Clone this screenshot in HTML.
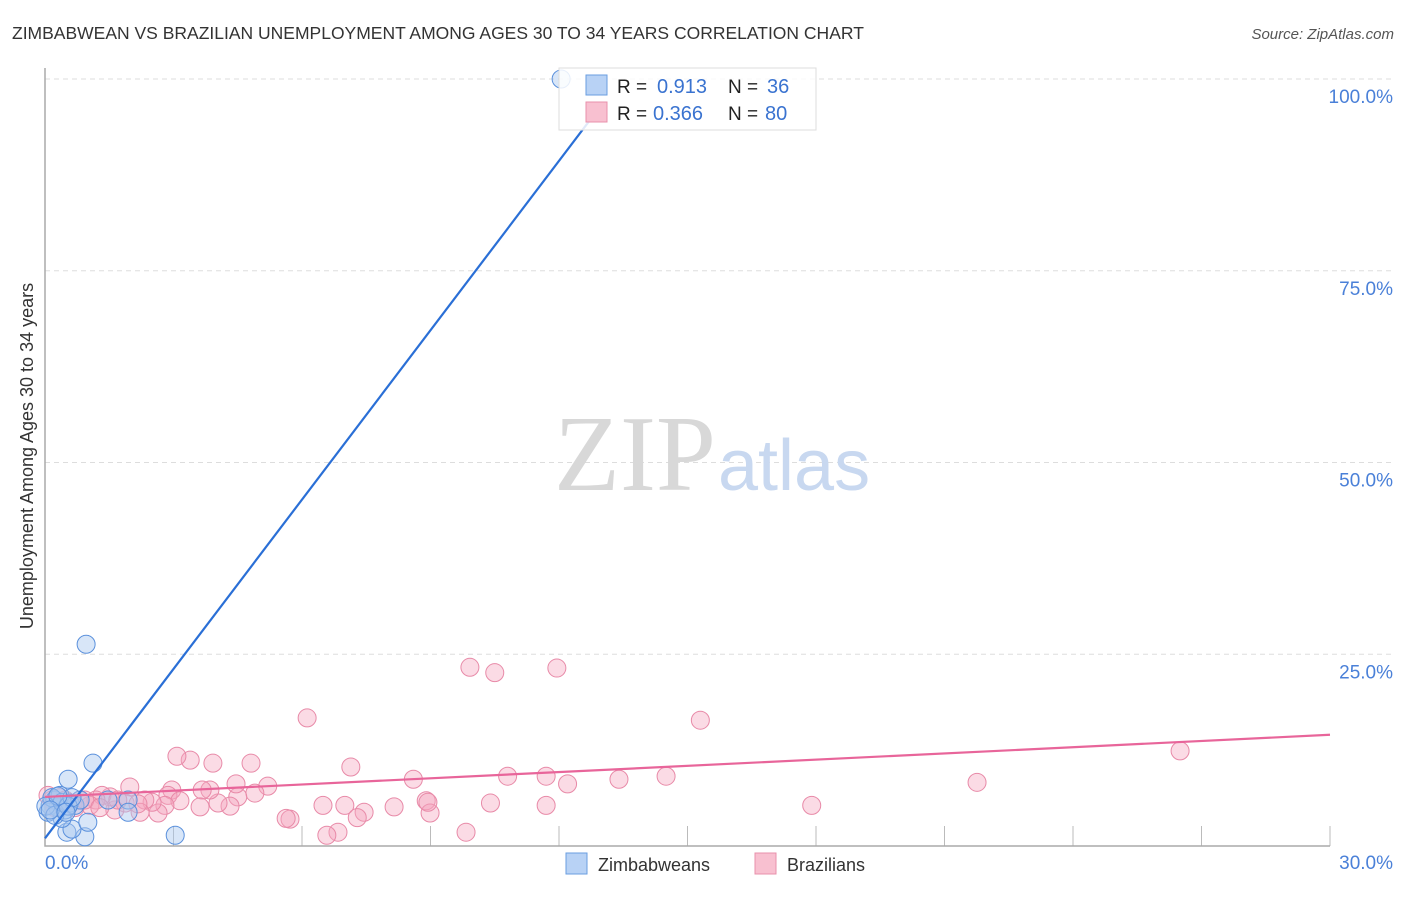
<!DOCTYPE html>
<html><head><meta charset="utf-8"><style>
body{margin:0;background:#fff;font-family:"Liberation Sans",sans-serif}
</style></head><body>
<svg width="1406" height="892" xmlns="http://www.w3.org/2000/svg">
<text x="12" y="39" font-size="17.5" fill="#333">ZIMBABWEAN VS BRAZILIAN UNEMPLOYMENT AMONG AGES 30 TO 34 YEARS CORRELATION CHART</text>
<text x="1394" y="39" font-size="15" fill="#555" font-style="italic" text-anchor="end">Source: ZipAtlas.com</text>
<text x="33" y="456" font-size="18" fill="#333" text-anchor="middle" transform="rotate(-90 33 456)">Unemployment Among Ages 30 to 34 years</text>
<g id="grid"></g>
<text x="716" y="490" font-size="108" fill="#d8d8d8" text-anchor="end" font-family="Liberation Serif,serif">ZIP</text>
<text x="718" y="490" font-size="72" fill="#c8d8f0">atlas</text>
<g id="pts"></g>
<g id="lines"></g>
<g>
<rect x="559" y="68" width="257" height="62" fill="#fff" fill-opacity="0.85" stroke="#ddd"/>
<rect x="586" y="75" width="21" height="20" fill="#b8d2f5" stroke="#6a9ee0"/>
<rect x="586" y="102" width="21" height="20" fill="#f8c0d0" stroke="#e890ab"/>
<text x="617" y="93" font-size="19" fill="#222">R =</text>
<text x="657" y="93" font-size="20" fill="#3a73d0">0.913</text>
<text x="728" y="93" font-size="19" fill="#222">N =</text>
<text x="767" y="93" font-size="20" fill="#3a73d0">36</text>
<text x="617" y="120" font-size="19" fill="#222">R =</text>
<text x="653" y="120" font-size="20" fill="#3a73d0">0.366</text>
<text x="728" y="120" font-size="19" fill="#222">N =</text>
<text x="765" y="120" font-size="20" fill="#3a73d0">80</text>
</g>
<g>
<rect x="566" y="853" width="21" height="21" fill="#b8d2f5" stroke="#6a9ee0"/>
<text x="598" y="871" font-size="18" fill="#333">Zimbabweans</text>
<rect x="755" y="853" width="21" height="21" fill="#f8c0d0" stroke="#e890ab"/>
<text x="787" y="871" font-size="18" fill="#333">Brazilians</text>
</g>
</svg>
<script>
const yTicks=[25,50,75,100];
const xTickLabels=["0.0%","30.0%"];
const blueX=[12.05,0.96,1.12,0.54,3.04,0.93,0.51,0.63,1.0,0.4,1.94,1.94,1.47,0.12,0.23,0.3,0.07,0.35,0.47,0.16,0.58,0.7,0.82,0.02,0.23,0.4,0.54,0.63,0.3,0.12,0.49];
const blueY=[100,26.3,10.8,8.7,1.4,1.2,1.8,2.2,3.1,3.6,6.0,4.4,6.0,5.3,6.0,5.0,4.4,6.6,4.7,6.3,5.6,5.3,6.0,5.2,4.0,5.7,5.2,6.3,6.5,4.7,4.4];
const pinkX=[9.92,10.5,11.95,6.12,15.3,26.5,21.76,17.9,14.5,13.4,11.7,10.8,12.2,11.7,10.4,9.83,8.9,8.99,8.94,8.6,8.15,7.45,7.14,7.0,7.29,6.84,6.58,6.49,5.72,5.63,5.2,4.9,4.81,4.5,4.46,4.32,4.04,3.92,3.85,3.67,3.62,3.39,3.08,2.96,2.87,3.15,2.8,2.64,2.5,2.33,2.22,1.98,1.87,1.63,1.52,1.33,1.19,1.05,0.82,0.58,0.35,0.16,0.07,0.23,0.7,0.93,0.47,1.28,1.7,2.17];
const pinkY=[23.3,22.6,23.2,16.7,16.4,12.4,8.3,5.3,9.1,8.7,9.1,9.1,8.1,5.3,5.6,1.8,5.9,4.3,5.7,8.7,5.1,4.4,10.3,5.3,3.7,1.8,1.4,5.3,3.5,3.6,7.8,6.9,10.8,6.4,8.1,5.2,5.6,10.8,7.3,7.3,5.1,11.2,11.7,7.3,6.6,5.9,5.3,4.3,5.7,6.0,4.4,7.7,5.6,4.7,6.4,6.6,6.0,5.3,6.0,5.6,6.3,6.0,6.6,5.0,5.0,6.0,6.0,5.0,6.0,5.5];
const blueLine=[[0,1.0],[12.73,94.7]];
const pinkLine=[[0,6.4],[30,14.5]];
const NS="http://www.w3.org/2000/svg";
const X=v=>45+v*(1285/30);
const Y=v=>846-v*7.67;
function mk(t,a,p){const e=document.createElementNS(NS,t);for(const k in a)e.setAttribute(k,a[k]);p.appendChild(e);return e;}
const g=document.getElementById('grid');
yTicks.forEach(t=>{
 const l=mk('line',{x1:45,x2:1394,y1:Y(t),y2:Y(t),stroke:'#ddd','stroke-dasharray':'5,4'},g);
 
 
 const tx=mk('text',{x:1393,y:Y(t)+24,'font-size':19,fill:'#4a80d8','text-anchor':'end'},g);
 tx.textContent=t.toFixed(1)+'%';
 
 
});
for(let i=1;i<=10;i++){
 const l=mk('line',{x1:X(i*3),x2:X(i*3),y1:826,y2:846,stroke:'#bbb'},g);
 
 
}
const ax=mk('path',{d:'M45 68V846H1330',fill:'none',stroke:'#aaa','stroke-width':1.5},g);


[[0,45,'start'],[30,1393,'end']].forEach((d,i)=>{
 const t=mk('text',{x:d[1],y:869,'font-size':19,fill:'#4a80d8','text-anchor':d[2]},g);
 t.textContent=xTickLabels[i];
 
 
});
const p=document.getElementById('pts');
pinkX.forEach((x,i)=>{
 const c=mk('circle',{cx:X(x),cy:Y(pinkY[i]),r:9,fill:'#f4a5bd','fill-opacity':0.4,stroke:'#e88aa8','stroke-width':1},p);
 
 
});
blueX.forEach((x,i)=>{
 const c=mk('circle',{cx:X(x),cy:Y(blueY[i]),r:9,fill:'#a8c8f0','fill-opacity':0.45,stroke:'#5a90dc','stroke-width':1},p);
 
 
});
const L=document.getElementById('lines');
const b=mk('line',{x1:X(blueLine[0][0]),y1:Y(blueLine[0][1]),x2:X(blueLine[1][0]),y2:Y(blueLine[1][1]),stroke:'#2a6fd6','stroke-width':2.2},L);


const q=mk('line',{x1:X(pinkLine[0][0]),y1:Y(pinkLine[0][1]),x2:X(pinkLine[1][0]),y2:Y(pinkLine[1][1]),stroke:'#e8659a','stroke-width':2.2},L);


</script>
</body></html>
